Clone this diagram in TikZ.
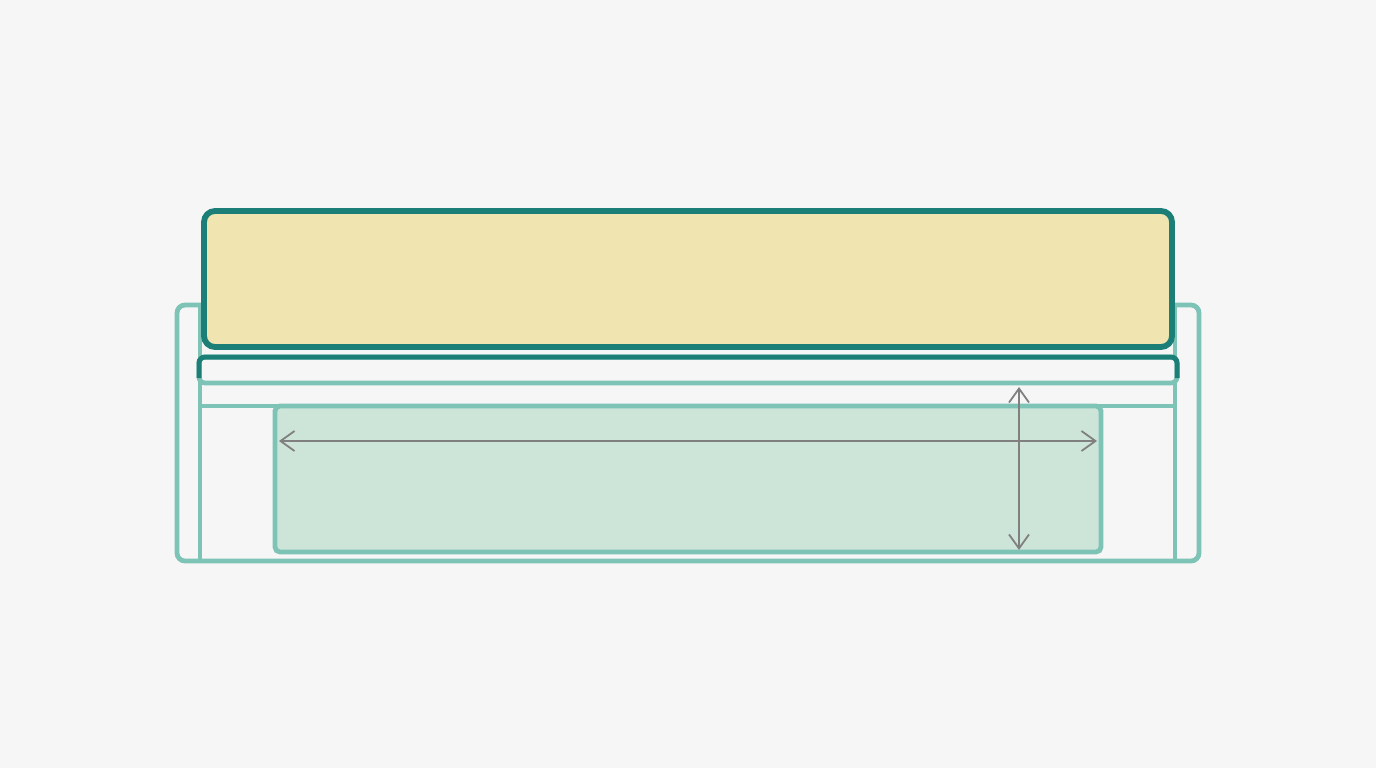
\documentclass[tikz,border=0pt]{standalone}
\usetikzlibrary{arrows.meta}
\definecolor{bgc}{HTML}{F6F6F6}
\definecolor{lteal}{HTML}{7DC3B6}
\definecolor{dteal}{HTML}{1B7F77}
\definecolor{yfill}{HTML}{F0E4B0}
\definecolor{gfill}{HTML}{CDE5D8}
\definecolor{agray}{HTML}{808080}
\tikzset{
  light/.style={draw=lteal, line width=4.8pt},
  dark/.style={draw=dteal, line width=5pt},
  dimarrow/.style={draw=agray, line width=1.8pt, {Straight Barb[length=14pt,width=20pt]}-{Straight Barb[length=14pt,width=20pt]}}
}
\begin{document}
\begin{tikzpicture}[x=1pt,y=-1pt]
\fill[bgc] (0,0) rectangle (1376,768);
\useasboundingbox (0,0) rectangle (1376,768);
% outer frame
\draw[light, rounded corners=8pt] (177,305) rectangle (1199,561);
% inner verticals
\draw[light] (200,305) -- (200,561);
\draw[light] (1175,305) -- (1175,561);
% horizontal rail
\draw[light] (200,406) -- (1175,406);
% drawer
\draw[light, fill=gfill, rounded corners=5pt] (275,406) rectangle (1101,552);
% dimension arrows
\coordinate (hl) at (279,441);
\coordinate (hr) at (1097,441);
\coordinate (vt) at (1019,387);
\coordinate (vb) at (1019,550);
\draw[dimarrow] (hl) -- (hr);
\draw[dimarrow] (vt) -- (vb);
% thin bar
\draw[light, fill=bgc, rounded corners=6pt] (199,357) rectangle (1177,383);
\draw[dark, rounded corners=6pt] (199,378) -- (199,357) -- (1177,357) -- (1177,378);
% top box
\draw[dark, line width=5.8pt, fill=yfill, rounded corners=11pt] (204,211) rectangle (1172,347);
\end{tikzpicture}
\end{document}
